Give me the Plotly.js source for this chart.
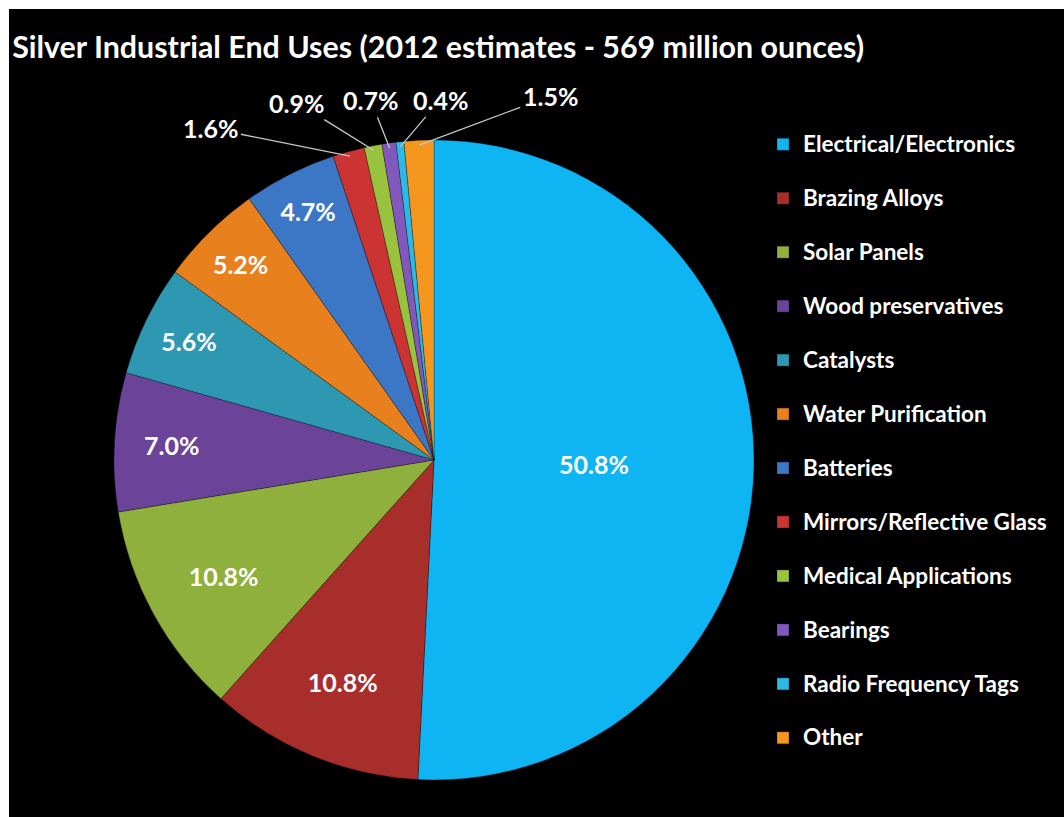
<!DOCTYPE html>
<html>
<head>
<meta charset="utf-8">
<script src="https://cdn.plot.ly/plotly-3.0.1.min.js"></script>
<style>
  html, body { margin: 0; padding: 0; background: #ffffff; width: 1064px; height: 817px; overflow: hidden; }
  #chart { position: absolute; left: 9px; top: 9px; width: 1055px; height: 808px; background: #000; }
</style>
</head>
<body>
<div id="chart"></div>
<script>
const categories = [
  "Electrical/Electronics", "Brazing Alloys", "Solar Panels", "Wood preservatives",
  "Catalysts", "Water Purification", "Batteries", "Mirrors/Reflective Glass",
  "Medical Applications", "Bearings", "Radio Frequency Tags", "Other"
];
const shares = [50.8, 10.8, 10.8, 7.0, 5.6, 5.2, 4.7, 1.6, 0.9, 0.7, 0.4, 1.5];
const sliceColors = [
  "#0fb4f2", "#a82e2c", "#8fb03c", "#6b4399", "#2e98b3", "#e8801e",
  "#3c77c6", "#cc3434", "#99c23e", "#8258bd", "#2cb9e6", "#f5961f"
];
// slices whose labels sit outside the pie, with leader lines
const outsideLabelled = [false,false,false,false,false,false,false,true,true,true,true,true];
// pixel offsets of those outside labels from their slice (layout only)
const outsideOffsets = { 7: [-139, -28], 8: [-77, -48], 9: [-19, -48], 10: [40, -47], 11: [131, -49] };

const fontFam = "Lato, 'Open Sans', sans-serif";
const W = 1055, H = 808;
const dom = { x: [0.0995, 0.7062], y: [0.0458, 0.8379] };

const fmt = v => v.toFixed(1) + "%";
const legendLabels = categories.map(c => '<span style="font-size:22.5px">' + c + '</span><br>&nbsp;');

const trace = {
  type: "pie",
  labels: legendLabels,
  values: shares,
  text: shares.map((v, i) => outsideLabelled[i] ? "" : fmt(v)),
  textinfo: "text",
  sort: false,
  direction: "clockwise",
  rotation: 0,
  marker: { colors: sliceColors, line: { color: "rgba(0,0,0,0.35)", width: 0.8 } },
  textposition: "inside",
  insidetextorientation: "horizontal",
  insidetextfont: { color: "#ffffff", size: 25, family: fontFam, weight: 700 },
  domain: dom,
  hoverinfo: "percent"
};

// leader-line labels for the thin slices, anchored at each slice's mid-angle
const pxW = (dom.x[1] - dom.x[0]) * W, pxH = (dom.y[1] - dom.y[0]) * H;
const R = Math.min(pxW, pxH) / 2;
const cx = (dom.x[0] + dom.x[1]) / 2 * W;
const cy = (1 - (dom.y[0] + dom.y[1]) / 2) * H;
const total = shares.reduce((a, b) => a + b, 0);
const annotations = [];
let cum = 0;
shares.forEach((v, i) => {
  const mid = cum + v / 2;
  cum += v;
  if (!outsideLabelled[i]) return;
  const th = 2 * Math.PI * mid / total;
  const px = cx + 0.985 * R * Math.sin(th);
  const py = cy - 0.985 * R * Math.cos(th);
  const off = outsideOffsets[i];
  annotations.push({
    xref: "paper", yref: "paper",
    x: px / W, y: 1 - py / H,
    text: fmt(v),
    showarrow: true, arrowhead: 0, arrowwidth: 1.3, arrowcolor: "#c8c8c8",
    ax: off[0], ay: off[1], standoff: 0, startstandoff: 1,
    font: { color: "#ffffff", size: 25, family: fontFam, weight: 700 }
  });
});

const layout = {
  width: W, height: H,
  paper_bgcolor: "#000000",
  plot_bgcolor: "#000000",
  margin: { l: 0, r: 0, t: 0, b: 0, autoexpand: false },
  title: {
    text: "Silver Industrial End Uses (2012 estimates - 569 million ounces)",
    font: { color: "#ffffff", size: 30.4, family: fontFam, weight: 700 },
    xref: "container", yref: "container",
    x: 0.003, xanchor: "left", y: 0.953, yanchor: "middle"
  },
  showlegend: true,
  legend: {
    xref: "container", yref: "container",
    x: 0.7147, xanchor: "left", y: 0.8564, yanchor: "top",
    valign: "top",
    maxheight: 780,
    font: { color: "#ffffff", size: 19.6, family: fontFam, weight: 700 },
    bgcolor: "rgba(0,0,0,0)",
    traceorder: "normal"
  },
  annotations: annotations
};

Plotly.newPlot("chart", [trace], layout, { displayModeBar: false, staticPlot: true });
</script>
</body>
</html>
